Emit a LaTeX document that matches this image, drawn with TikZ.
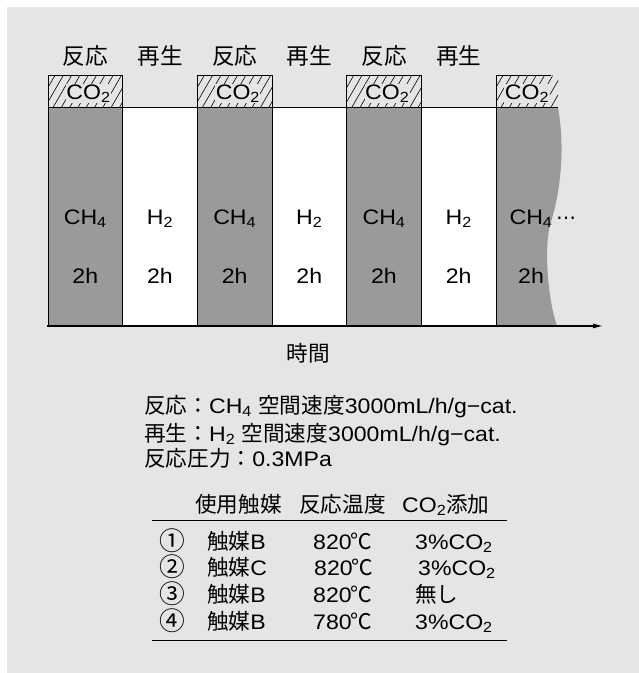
\documentclass[tikz,border=0pt]{standalone}
\usepackage{fontspec}
\setmainfont{Liberation Sans}[FakeStretch=1.1]
\newfontfamily\jp{Noto Sans CJK JP}[Scale=1.03]
\newfontfamily\dv{DejaVu Sans}
\newcommand\J[1]{{\jp #1}}
\newcommand\sbs[1]{\textsubscript{#1}}
\newcommand\degc{\kern-1.5pt{\jp ℃}}
\usetikzlibrary{arrows.meta}
\definecolor{bgc}{HTML}{E5E5E5}
\definecolor{colg}{HTML}{9A9A9A}
\begin{document}
\begin{tikzpicture}[x=1pt,y=-1pt,
  txt/.style={inner sep=0pt, font=\fontsize{21}{25}\selectfont},
  toplab/.style={inner sep=0pt, anchor=base, font=\fontsize{22}{26}\selectfont\jp},
  circnum/.style={inner sep=0pt, anchor=base, font=\fontsize{25}{28}\selectfont\jp},
  colline/.style={line width=0.9pt, draw=black},
  hatch/.style={line width=0.6pt},
  co/.style={txt, anchor=base, fill=bgc, inner xsep=0.5pt, inner ysep=1pt},
]
\useasboundingbox (0,0) rectangle (639,673);
\fill[bgc] (7,7) rectangle (639,673);

% white columns
\foreach \x in {122.7,272,421.3} \fill[white] (\x,107.7) rectangle ++(74.67,218.3);
% gray columns
\foreach \x in {48,197.3,346.7} \filldraw[fill=colg, colline] (\x,107.7) rectangle ++(74.67,218.3);
% last (cut) column
\fill[colg] (496,107.7) -- (558,107.7) .. controls (564,140) and (563,185) .. (550,225)
  .. controls (544,250) and (548,300) .. (557,326) -- (496,326) -- cycle;
\draw[colline] (496,107.7) -- (496,326);
\draw[colline] (48,107.7) -- (558,107.7);

% CO2 hatched boxes
\foreach \x in {48,197.3,346.7} {
  \begin{scope}
    \clip (\x,75.7) rectangle ++(74.67,32);
    \foreach \i in {0,...,12} \draw[hatch] ({\x-20+\i*8.3},107.7) -- ++(18.5,-32);
  \end{scope}
  \draw[colline] (\x,107.7) -- (\x,75.7) -- ({\x+74.67},75.7) -- ({\x+74.67},107.7);
}
\begin{scope}
  \clip (496,75.7) rectangle (558,107.7);
  \foreach \i in {0,...,10} \draw[hatch] ({496-20+\i*8.3},107.7) -- ++(18.5,-32);
\end{scope}
\draw[colline] (496,107.7) -- (496,75.7) -- (551,75.7);

% time axis
\coordinate (ax0) at (47,326);
\coordinate (ax1) at (603,326);
\draw[line width=1.1pt, -{Latex[length=10pt,width=5pt]}] (ax0) -- (ax1);

% top labels
\node[toplab] (l1) at (85.3,64.5) {反応};
\node[toplab] (l2) at (160,64.5) {再生};
\node[toplab] (l3) at (234.7,64.5) {反応};
\node[toplab] (l4) at (309.3,64.5) {再生};
\node[toplab] (l5) at (384,64.5) {反応};
\node[toplab] (l6) at (458.7,64.5) {再生};

% CO2 labels
\node[co] (c1) at (88.5,99.3) {CO\sbs{2}};
\node[co] (c2) at (237.9,99.3) {CO\sbs{2}};
\node[co] (c3) at (387.2,99.3) {CO\sbs{2}};
\node[co] (c4) at (527,99.3) {CO\sbs{2}};

% column texts
\node[txt, anchor=base] (g1) at (85.3,224) {CH\sbs{4}};
\node[txt, anchor=base] (w1) at (160,224) {H\sbs{2}};
\node[txt, anchor=base] (g2) at (234.7,224) {CH\sbs{4}};
\node[txt, anchor=base] (w2) at (309.3,224) {H\sbs{2}};
\node[txt, anchor=base] (g3) at (384,224) {CH\sbs{4}};
\node[txt, anchor=base] (w3) at (458.7,224) {H\sbs{2}};
\node[txt, anchor=base] (g4) at (531,224) {CH\sbs{4}};
\node[inner sep=0pt, anchor=base west, font=\fontsize{20}{24}\selectfont\dv] (dots) at (556,224) {⋯};

\foreach \cx/\nm in {85.3/t1,160/t2,234.7/t3,309.3/t4,384/t5,458.7/t6,531/t7}
  \node[txt, anchor=base] (\nm) at (\cx,283.3) {2h};

\node[txt, anchor=base, font=\fontsize{21}{25}\selectfont\jp] (time) at (308,361) {時間};

% conditions
\node[txt, anchor=base west] (cond1) at (144,413) {\J{反応：}CH\sbs{4} \J{空間速度}3000mL/h/g−cat.};
\node[txt, anchor=base west] (cond2) at (144,441) {\J{再生：}H\sbs{2} \J{空間速度}3000mL/h/g−cat.};
\node[txt, anchor=base west] (cond3) at (144,466) {\J{反応圧力：}0.3MPa};

% table
\node[txt, anchor=base west] (h1) at (195,512) {\J{使用触媒}};
\node[txt, anchor=base west] (h2) at (299,512) {\J{反応温度}};
\node[txt, anchor=base west] (h3) at (402,512) {CO\sbs{2}\J{添加}};
\coordinate (r1a) at (152,520);
\coordinate (r1b) at (507,520);
\coordinate (r2a) at (152,640);
\coordinate (r2b) at (507,640);
\draw[line width=1pt] (r1a) -- (r1b);
\draw[line width=1pt] (r2a) -- (r2b);

\node[circnum] (n1) at (172,550) {①};
\node[txt, anchor=base west] (k1) at (207,549) {\J{触媒}B};
\node[txt, anchor=base west] (tt1) at (313,549) {820\degc};
\node[txt, anchor=base west] (a1) at (415,549) {3\%CO\sbs{2}};

\node[circnum] (n2) at (172,576.7) {②};
\node[txt, anchor=base west] (k2) at (207,575.7) {\J{触媒}C};
\node[txt, anchor=base west] (tt2) at (314,575.7) {820\degc};
\node[txt, anchor=base west] (a2) at (418,575.7) {3\%CO\sbs{2}};

\node[circnum] (n3) at (172,603.3) {③};
\node[txt, anchor=base west] (k3) at (207,602.3) {\J{触媒}B};
\node[txt, anchor=base west] (tt3) at (313,602.3) {820\degc};
\node[txt, anchor=base west] (a3) at (415,602.3) {\J{無し}};

\node[circnum] (n4) at (172,630) {④};
\node[txt, anchor=base west] (k4) at (207,629) {\J{触媒}B};
\node[txt, anchor=base west] (tt4) at (313,629) {780\degc};
\node[txt, anchor=base west] (a4) at (415,629) {3\%CO\sbs{2}};
\end{tikzpicture}
\end{document}
